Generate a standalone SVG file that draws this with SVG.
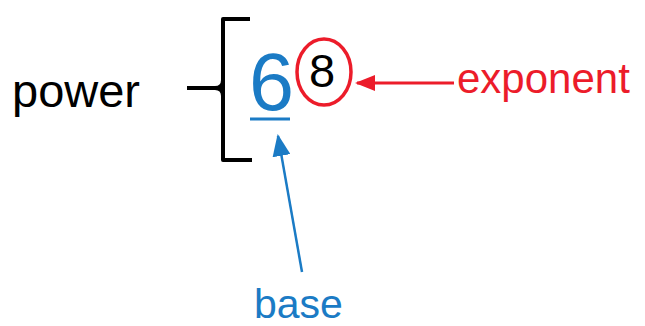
<svg xmlns="http://www.w3.org/2000/svg" width="645" height="326" viewBox="0 0 645 326">
<style>
text{font-family:"Liberation Sans",Arial,sans-serif}
.blue{fill:#1b7bc5}
.red{fill:#ec1c2a}
</style>
<defs>
<marker id="ar" viewBox="0 0 20 16" refX="18" refY="8" markerWidth="20" markerHeight="16" markerUnits="userSpaceOnUse" orient="auto"><path d="M0,0 L20,8 L0,16 Z" fill="#ec1c2a"/></marker>
<marker id="ab" viewBox="0 0 22 18" refX="20" refY="9" markerWidth="22" markerHeight="18" markerUnits="userSpaceOnUse" orient="auto"><path d="M0,0 L22,9 L0,18 Z" fill="#1b7bc5"/></marker>
</defs>
<rect width="645" height="326" fill="#fff"/>
<g id="power"><text x="12" y="107" font-size="47" fill="#000">power</text></g>
<g id="brace"><path d="M250,19 H223 V88 H187 M223,88 V160 H252" fill="none" stroke="#000" stroke-width="4" stroke-linejoin="round"/><path d="M223,80 Q223,88 215,88 Q223,88 223,96" fill="none" stroke="#000" stroke-width="4"/></g>
<g id="six"><text x="249" y="110" font-size="81" class="blue">6</text><line x1="250" y1="119" x2="290" y2="119" stroke="#1b7bc5" stroke-width="3"/></g>
<g id="eight"><ellipse cx="324" cy="72" rx="27" ry="33" fill="none" stroke="#ec1c2a" stroke-width="3.5"/><text x="309" y="87" font-size="47" fill="#000">8</text></g>
<g id="exponent"><text x="457" y="93" font-size="42" class="red">exponent</text></g>
<g id="base"><text x="254" y="318" font-size="41" class="blue">base</text></g>
<g id="connectors">
<line x1="454" y1="83" x2="357" y2="83" stroke="#ec1c2a" stroke-width="3" marker-end="url(#ar)"/>
<line x1="302" y1="272" x2="278" y2="136" stroke="#1b7bc5" stroke-width="2.5" marker-end="url(#ab)"/>
</g>
</svg>
